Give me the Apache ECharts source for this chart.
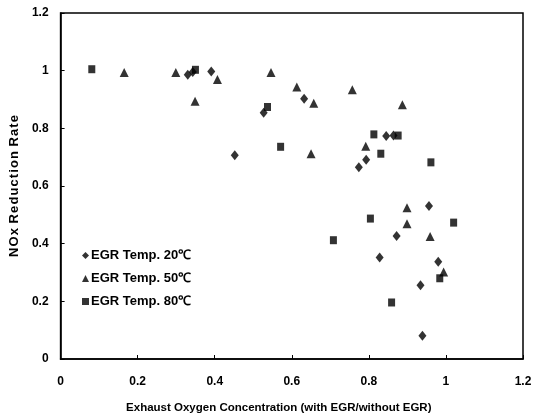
<!DOCTYPE html>
<html><head><meta charset="utf-8">
<script src="https://cdn.jsdelivr.net/npm/echarts@6/dist/echarts.min.js"></script>
<style>html,body{margin:0;padding:0;background:#fff}#c{width:540px;height:419px}</style>
</head><body><div id="c"></div>
<script>
// EGR Temp. 20℃ (diamonds)
const t20 = [[0.33,0.986],[0.343,0.995],[0.391,0.997],[0.452,0.707],[0.527,0.854],[0.632,0.903],[0.774,0.665],[0.793,0.691],[0.845,0.773],[0.864,0.775],[0.828,0.352],[0.872,0.427],[0.934,0.256],[0.939,0.081],[0.956,0.531],[0.98,0.337]];
// EGR Temp. 50℃ (triangles)
const t50 = [[0.165,0.994],[0.299,0.994],[0.349,0.894],[0.407,0.969],[0.546,0.994],[0.613,0.943],[0.65,0.712],[0.657,0.887],[0.757,0.934],[0.792,0.738],[0.887,0.882],[0.899,0.525],[0.899,0.469],[0.959,0.425],[0.994,0.302]];
// EGR Temp. 80℃ (squares)
const t80 = [[0.081,1.005],[0.35,1.003],[0.537,0.874],[0.571,0.736],[0.708,0.412],[0.804,0.487],[0.813,0.779],[0.831,0.712],[0.859,0.196],[0.876,0.775],[0.961,0.682],[0.984,0.28],[1.02,0.473]];
const seriesNames = ['EGR Temp. 20℃','EGR Temp. 50℃','EGR Temp. 80℃'];

const font = 'Liberation Sans, Arial, sans-serif';
const chart = echarts.init(document.getElementById('c'));
chart.setOption({
  animation:false,
  backgroundColor:'#fff',
  grid:{left:56,right:17,top:13,bottom:59,show:true,borderColor:'#000',borderWidth:1.5},
  legend:{
    orient:'vertical',left:77,top:244,itemGap:10,itemWidth:7,itemHeight:7,
    textStyle:{fontFamily:font,fontSize:13,fontWeight:'bold',color:'#000',padding:[0,0,0,-3]},
    data:[{name:seriesNames[0],icon:'diamond'},{name:seriesNames[1],icon:'triangle'},{name:seriesNames[2],icon:'rect'}]
  },
  xAxis:{
    type:'value',min:0,max:1.2,interval:0.2,
    name:'Exhaust Oxygen Concentration (with EGR/without EGR)',nameLocation:'middle',nameGap:43,
    nameTextStyle:{fontFamily:font,fontSize:11.5,fontWeight:'bold',color:'#000',padding:[0,26,0,0]},
    axisLine:{show:true,lineStyle:{color:'#000',width:1.5}},
    axisTick:{show:true,inside:true,length:4,lineStyle:{color:'#000'}},
    axisLabel:{fontFamily:font,fontSize:12,fontWeight:'bold',color:'#000',margin:17,
      formatter:v=>String(Math.round(v*10)/10)},
    splitLine:{show:false}
  },
  yAxis:{
    type:'value',min:0,max:1.2,interval:0.2,
    name:'N O x  R e d u c t i o n  R a t e'.replace(/ (?! )/g,'\u200A'),nameLocation:'middle',nameGap:30,
    nameTextStyle:{fontFamily:font,fontSize:13,fontWeight:'bold',color:'#000'},
    axisLine:{show:true,lineStyle:{color:'#000',width:1.5}},
    axisTick:{show:true,inside:true,length:4,lineStyle:{color:'#000'}},
    axisLabel:{fontFamily:font,fontSize:12,fontWeight:'bold',color:'#000',margin:12,
      formatter:v=>String(Math.round(v*10)/10)},
    splitLine:{show:false}
  },
  series:[
    {name:seriesNames[0],type:'scatter',symbol:'diamond',symbolSize:[8,10],data:t20,itemStyle:{color:'#000'}},
    {name:seriesNames[1],type:'scatter',symbol:'triangle',symbolSize:[9,9],data:t50,itemStyle:{color:'#000'}},
    {name:seriesNames[2],type:'scatter',symbol:'rect',symbolSize:[7,8],data:t80,itemStyle:{color:'#000'}}
  ]
});
</script></body></html>
